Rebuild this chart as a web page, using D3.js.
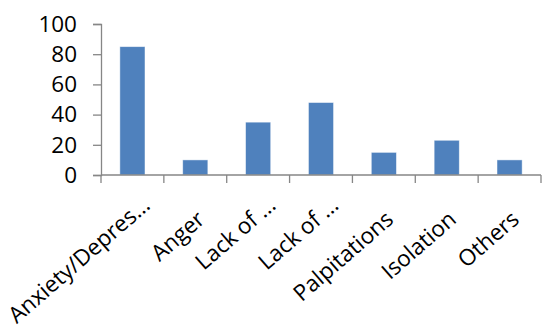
<!DOCTYPE html>
<html>
<head>
<meta charset="utf-8">
<script src="https://cdn.jsdelivr.net/npm/d3@7"></script>
<style>
  html, body { margin: 0; padding: 0; background: #fff; }
  svg text { font-family: "Open Sans", Lato, sans-serif; fill: #000; }
</style>
</head>
<body>
<svg id="chart" width="542" height="335"></svg>
<script>
// Reported symptoms (counts)
const categories = ["Anxiety/Depres\u2026", "Anger", "Lack of \u2026", "Lack of \u2026", "Palpitations", "Isolation", "Others"];
const values = [85, 10, 35, 48, 15, 23, 10];
const yTicks = [0, 20, 40, 60, 80, 100];

const svg = d3.select("#chart");
const margin = { left: 101, right: 1, top: 24, bottom: 160 };
const W = 542, H = 335;
const x0 = margin.left, x1 = W - margin.right;
const y0 = H - margin.bottom, y1 = margin.top;

const idx = categories.map((d, i) => i);
const x = d3.scaleBand().domain(idx).range([x0, x1]).paddingInner(0.6).paddingOuter(0.3);
const xb = d3.scaleBand().domain(idx).range([x0, x1]);
const y = d3.scaleLinear().domain([0, 100]).range([y0, y1]);

// bars
svg.append("g").selectAll("rect").data(values).join("rect")
  .attr("x", (d, i) => x(i))
  .attr("width", x.bandwidth())
  .attr("y", d => y(d))
  .attr("height", d => y(0) - y(d))
  .attr("fill", "#4F81BD")
  .attr("stroke", "#ffffff")
  .attr("stroke-opacity", 0.6)
  .attr("stroke-width", 0.8);

// y axis
const yAxis = svg.append("g").attr("transform", `translate(${x0},0)`)
  .call(d3.axisLeft(y).tickValues(yTicks).tickSize(8).tickPadding(16));
yAxis.select(".domain").attr("stroke", "#868686").attr("stroke-width", 1.3);
yAxis.selectAll(".tick line").attr("stroke", "#868686").attr("stroke-width", 1.3);
yAxis.selectAll(".tick text").attr("font-size", 22.5).attr("fill", "#000")
  .style("font-family", "'Open Sans', Lato, sans-serif");

// x axis line with boundary ticks
const xAxis = svg.append("g").attr("transform", `translate(0,${y0})`);
xAxis.append("line").attr("x1", x0).attr("x2", x1).attr("stroke", "#868686").attr("stroke-width", 1.3);
const bounds = idx.map(i => xb(i)).concat([x1]);
xAxis.selectAll("line.tk").data(bounds).join("line").attr("class", "tk")
  .attr("x1", d => d).attr("x2", d => d).attr("y1", 0).attr("y2", 8)
  .attr("stroke", "#868686").attr("stroke-width", 1.3);

// rotated category labels; truncated ones sit a little further along
const truncated = d => d.endsWith("\u2026");
svg.append("g").selectAll("text").data(categories).join("text")
  .attr("transform", (d, i) => `translate(${xb(i) + xb.bandwidth() / 2 + 11},${y0 + 46.5}) rotate(-41)`)
  .attr("text-anchor", "end")
  .attr("dx", d => truncated(d) ? 15.4 : 0)
  .attr("dy", d => truncated(d) ? -5.5 : 0)
  .attr("font-size", 22.5)
  .text(d => d);
</script>
</body>
</html>
